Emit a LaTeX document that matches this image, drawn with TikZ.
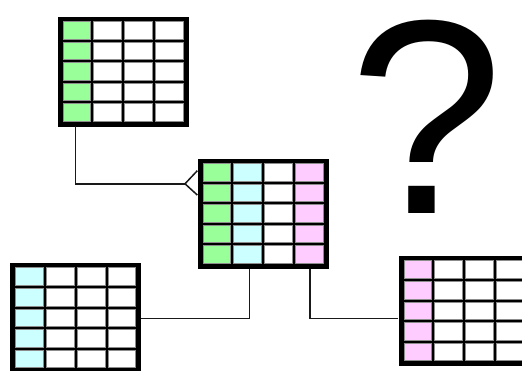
\documentclass[tikz,border=0pt]{standalone}
\usepackage{fontspec}
\setmainfont{Liberation Sans}
\usetikzlibrary{calc}
\definecolor{cgreen}{RGB}{153,255,153}
\definecolor{ccyan}{RGB}{204,255,255}
\definecolor{cpink}{RGB}{255,204,255}
\tikzset{
  tabframe/.style={fill=black, draw=none, inner sep=0pt, minimum width=131pt, minimum height=110pt, anchor=north west},
  cellbox/.style={draw=black!45, line width=0.5pt},
  link/.style={draw=black!90, line width=1.5pt},
}
% #1 name, #2 x, #3 y, #4..#7 column colours
\newcommand\erdtab[7]{%
  \node[tabframe] (#1) at (#2,#3) {};
  \foreach \c [count=\i from 0] in {#4,#5,#6,#7}{
    \foreach \r in {0,...,4}{
      \path[cellbox, fill=\c]
        ($(#1.north west)+(5.5+\i*30.75, 5+\r*20.6)$)
        rectangle ++(27.75,17.6);
    }
  }
}
\begin{document}
\begin{tikzpicture}[x=1pt, y=-1pt]
\useasboundingbox (0,0) rectangle (522,370);
\clip (0,0) rectangle (522,370);
\fill[white] (0,0) rectangle (522,370);

\erdtab{T1}{57.3}{16.3}{cgreen}{white}{white}{white}
\erdtab{T2}{197.3}{158.3}{cgreen}{ccyan}{white}{cpink}
\erdtab{T3}{10}{262.7}{ccyan}{white}{white}{white}
\erdtab{T4}{398.3}{255.7}{cpink}{white}{white}{white}

% connector T1 -> T2 with crow's foot
\coordinate (fork) at ($(T2.west)+(-12.3,-29.7)$);
\coordinate (t1out) at ($(T1.south west)+(18.4,0)$);
\draw[link, line cap=rect] (t1out) |- (fork);
\draw[link] ($(T2.north west)+(0,12.4)$) -- (fork) -- ($(T2.north west)+(0,36.7)$);

% connector T2 -> T3
\coordinate (t2a) at ($(T2.south west)+(52,0)$);
\draw[link] (t2a) |- (T3.east |- 0,318.3);
% connector T2 -> T4
\coordinate (t2b) at ($(T2.south west)+(112.7,0)$);
\draw[link] (t2b) |- (T4.west |- 0,318.3);

\node[inner sep=0pt, anchor=base, text height=204pt, text depth=0pt,
      font=\fontsize{277}{277}\selectfont] (q) at (426.7,213) {?};
\end{tikzpicture}
\end{document}
